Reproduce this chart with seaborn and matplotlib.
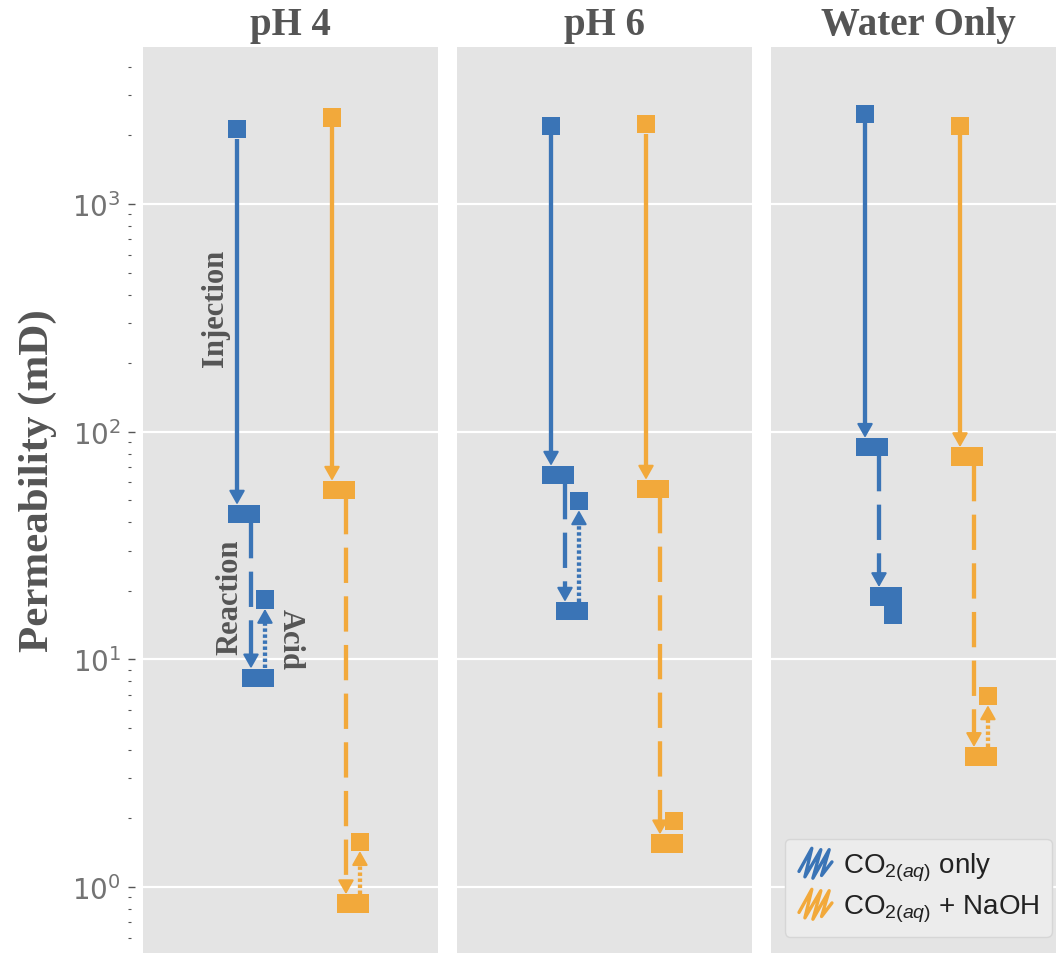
import matplotlib
matplotlib.use("Agg")
import numpy as np
import pandas as pd
import matplotlib.pyplot as plt
import seaborn as sns
from matplotlib.lines import Line2D
from matplotlib.legend_handler import HandlerBase

# ---- data -------------------------------------------------------------
panels = ["pH 4", "pH 6", "Water Only"]
series = ["CO$_{2(aq)}$ only", "CO$_{2(aq)}$ + NaOH"]
colors = ["#3a74b6", "#f2a93b"]

# permeability (mD) per panel: initial, after injection, after reaction, after acid
co2_only_initial = [2130, 2200, 2480]
co2_only_injection = [43.5, 64.5, 85.5]
co2_only_reaction = [8.3, 16.3, 18.9]
co2_only_acid = [18.3, 49.6, 15.7]

co2_naoh_initial = [2400, 2240, 2200]
co2_naoh_injection = [55.4, 56.0, 77.8]
co2_naoh_reaction = [0.846, 1.55, 3.75]
co2_naoh_acid = [1.58, 1.95, 6.9]

stage_labels = ["Injection", "Reaction", "Acid"]

# ---- style ------------------------------------------------------------
sns.set_style("darkgrid", {"axes.facecolor": "#e4e4e4", "grid.color": "white"})
plt.rcParams["font.family"] = ["DejaVu Sans"]
plt.rcParams["mathtext.fontset"] = "custom"
plt.rcParams["mathtext.rm"] = "Liberation Sans"
plt.rcParams["mathtext.it"] = "Liberation Sans:italic"
plt.rcParams["mathtext.bf"] = "Liberation Sans:bold"

TEXT_GRAY = "#555555"
SERIF = "Liberation Serif"

W, H = 1056, 954
fig = plt.figure(figsize=(W / 100, H / 100), dpi=100)
fig.patch.set_facecolor("white")

left0, width, gap, top = 143, 295, 19, 48
axes = []
for i in range(3):
    l = left0 + i * (width + gap)
    ax = fig.add_axes([l / W, 0, width / W, (H - top) / H],
                      sharey=axes[0] if axes else None)
    axes.append(ax)

series_pos = [0.0, 1.0]
step = 0.147

stages = [
    [co2_only_initial, co2_only_injection, co2_only_reaction, co2_only_acid],
    [co2_naoh_initial, co2_naoh_injection, co2_naoh_reaction, co2_naoh_acid],
]
line_styles = ["-", (0, (8.2, 3.1)), (0, (0.8, 0.6))]

LW = 3.1
HALF_MARKER = 6.7   # pt, half of the square marker
HEAD_LEN = 8.5      # pt


def draw_step(ax, x, k_from, k_to, color, ls):
    # very short steps are hidden beneath the markers
    if abs(np.log10(k_to / k_from)) < 0.1:
        return
    px = fig.dpi / 72.0
    t = ax.transData
    (xd, y0), (_, y1) = t.transform([(x, k_from), (x, k_to)])
    d = np.sign(y1 - y0)
    ya = y0 + d * HALF_MARKER * px
    yb = y1 - d * (HALF_MARKER + 0.5 * HEAD_LEN) * px
    (_, ka), (_, kb) = t.inverted().transform([(xd, ya), (xd, yb)])
    ax.plot([x, x], [ka, kb], color=color, lw=LW, linestyle=ls,
            dash_capstyle="butt", solid_capstyle="butt", zorder=2)
    ax.annotate("", xy=(x, k_to),
                xytext=(0, -d * (HALF_MARKER + HEAD_LEN + 0.5)),
                textcoords="offset points",
                arrowprops=dict(arrowstyle="-|>,head_length=0.85,head_width=0.48",
                                color=color, lw=1.5, shrinkA=0,
                                shrinkB=HALF_MARKER, mutation_scale=10),
                zorder=2)


for p, (ax, panel) in enumerate(zip(axes, panels)):
    ax.set_yscale("log")
    ax.set_xlim(-0.99, 2.116)
    ax.set_ylim(0.513, 4893)
    ax.autoscale(False)

    rows = []
    for s, name in enumerate(series):
        ini, inj, rea, acd = (st[p] for st in stages[s])
        x0 = series_pos[s]
        pts = [(x0, ini), (x0, inj),
               (x0 + step, inj), (x0 + step, rea),
               (x0 + 2 * step, rea), (x0 + 2 * step, acd)]
        for x, k in pts:
            rows.append({"x": x, "k": k, "series": name})
        vals = [ini, inj, rea, acd]
        for j in range(3):
            draw_step(ax, x0 + j * step, vals[j], vals[j + 1], colors[s], line_styles[j])
    df = pd.DataFrame(rows)
    sns.scatterplot(data=df, x="x", y="k", hue="series", hue_order=series,
                    palette=colors, marker="s", s=177, linewidth=0,
                    legend=False, ax=ax, zorder=4)

    ax.set_xlim(-0.99, 2.116)
    ax.set_ylim(0.513, 4893)
    ax.set_xlabel("")
    ax.set_ylabel("")
    ax.set_xticks([])
    for sp in ax.spines.values():
        sp.set_visible(False)
    ax.grid(False, axis="x")
    ax.grid(True, which="major", axis="y", color="white", lw=1.6)
    ax.set_title(panel, fontsize=28, fontweight="bold", family=SERIF,
                 color=TEXT_GRAY, pad=9)
    if p > 0:
        ax.tick_params(axis="y", which="both", left=False, labelleft=False)

ax1 = axes[0]
ax1.spines["left"].set_position(("outward", 11))
ax1.tick_params(axis="y", which="major", left=True, direction="in", length=4.7,
                width=1.0, color=TEXT_GRAY, pad=5, labelsize=20,
                labelcolor="#737373")
ax1.tick_params(axis="y", which="minor", left=True, direction="in", length=2.2,
                width=0.8, color=TEXT_GRAY)
ax1.set_ylabel("Permeability (mD)", fontsize=31, fontweight="bold",
               family=SERIF, color=TEXT_GRAY)
ax1.yaxis.set_label_coords(-0.29, 0.523)

# stage annotations in the first panel
txt_kw = dict(fontsize=22, fontweight="bold", family=SERIF, color=TEXT_GRAY,
              ha="center", va="center", zorder=3)
ax1.text(-0.23, 353, stage_labels[0], rotation=90, **txt_kw)
ax1.text(-0.07, 19, stage_labels[1], rotation=90, **txt_kw)
ax1.text(0.56, 12.3, stage_labels[2], rotation=270, **txt_kw)


# scribble-style legend keys
class ScribbleHandler(HandlerBase):
    def create_artists(self, legend, orig_handle, xdescent, ydescent,
                       width, height, fontsize, trans):
        xs = np.array([0.05, 0.42, 0.22, 0.68, 0.45, 0.92, 0.70, 1.0])
        ys = np.array([0.20, 1.05, 0.00, 1.00, -0.05, 1.00, 0.05, 0.55])
        h = height * 1.4
        line = Line2D(xs * width - xdescent, ys * h - ydescent - 0.2 * height,
                      color=orig_handle.get_color(), lw=2.4,
                      solid_capstyle="round", solid_joinstyle="round")
        line.set_transform(trans)
        return [line]


handles = [Line2D([], [], color=c) for c in colors]
leg = axes[2].legend(handles, series, loc="lower right",
                     bbox_to_anchor=(1052 / W, 1 - 938 / H),
                     bbox_transform=fig.transFigure, borderaxespad=0,
                     handler_map={Line2D: ScribbleHandler()},
                     handlelength=1.25, handletextpad=0.4, labelspacing=0.35,
                     borderpad=0.45, frameon=True, fancybox=True,
                     facecolor="#ececec", edgecolor="#d6d6d6", framealpha=1,
                     prop={"family": "Liberation Sans", "size": 20})
for t in leg.get_texts():
    t.set_color("#222222")

fig.savefig("out.png", dpi=100)
